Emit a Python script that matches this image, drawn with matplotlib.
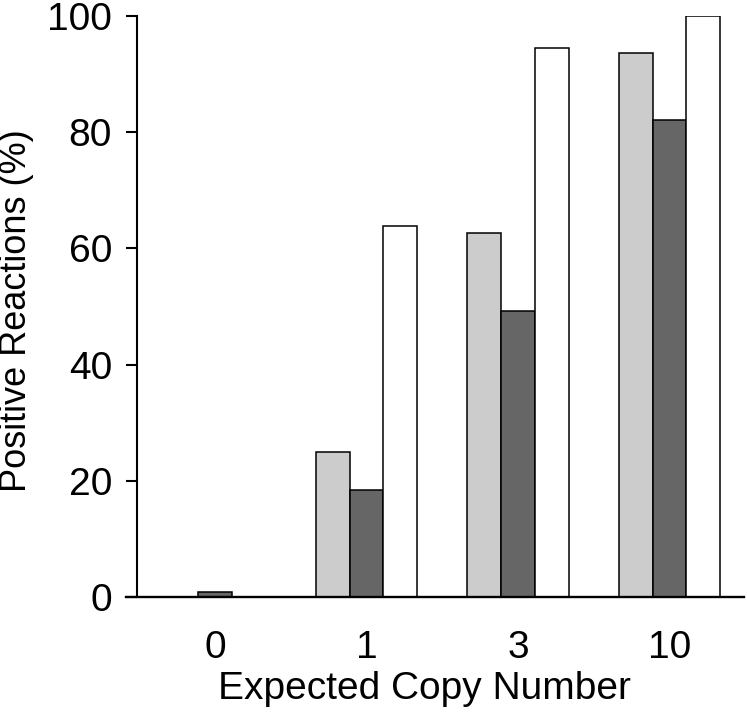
import matplotlib
matplotlib.use("Agg")
import matplotlib.pyplot as plt
import numpy as np

plt.rcParams['font.family'] = ['Liberation Sans', 'DejaVu Sans']

copies = ['0', '1', '3', '10']
light = [0, 25.0, 62.7, 93.6]
dark = [0.8, 18.4, 49.3, 82.1]
white = [0, 63.9, 94.5, 100]

fig = plt.figure(figsize=(7.47, 7.12), dpi=100)
ax = fig.add_axes([137/747, 115/712, 607/747, 581/712])

x = np.arange(len(copies))
w = 0.2224
kw = dict(width=w, edgecolor='black', linewidth=1.1)
ax.bar(x - w, light, color='#cccccc', **kw)
ax.bar(x, dark, color='#666666', **kw)
ax.bar(x + w, white, color='white', **kw)

ax.set_xlim(-0.515, 3.492)
ax.set_ylim(0, 100)
ax.axhline(0, xmin=-11/607, xmax=1, color='black', lw=1.7, clip_on=False, zorder=5)

for s in ['top', 'right', 'bottom']:
    ax.spines[s].set_visible(False)
ax.spines['left'].set_linewidth(1.5)
ax.spines['left'].set_bounds(0, 100)

ax.set_yticks(np.arange(0, 101, 20))
ax.tick_params(axis='y', length=8, width=1.5, pad=10, labelsize=28)
ax.set_xticks(x)
ax.set_xticklabels(copies)
ax.tick_params(axis='x', length=0, pad=24, labelsize=28)

fig.text(17/747, 1 - 311/712, 'Positive Reactions (%)', fontsize=26,
         rotation=90, ha='center', va='center')
ax.set_xlabel('Expected Copy Number', fontsize=28, va='center')
ax.xaxis.set_label_coords(0.474, -0.158)

fig.savefig('out.png', dpi=100)
